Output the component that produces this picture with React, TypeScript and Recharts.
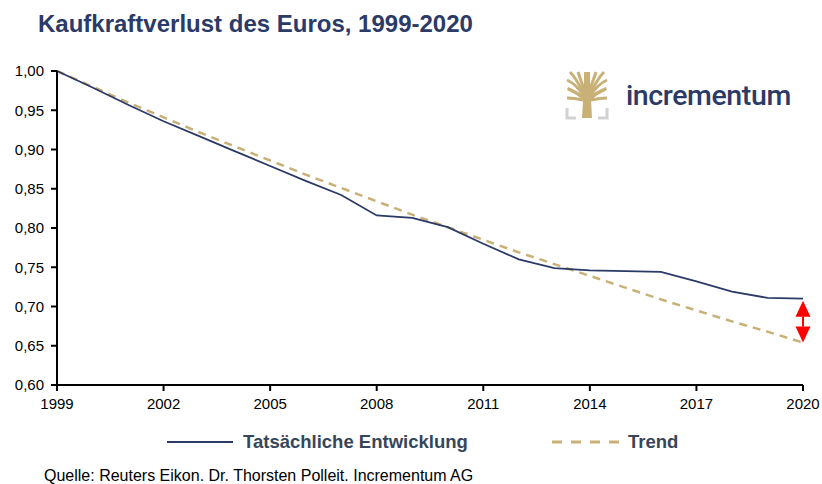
import { LineChart, Line, XAxis, YAxis, ReferenceLine } from 'recharts';

const years = [1999, 2000, 2001, 2002, 2003, 2004, 2005, 2006, 2007, 2008, 2009, 2010, 2011, 2012, 2013, 2014, 2015, 2016, 2017, 2018, 2019, 2020];
const actual = [1.0, 0.979, 0.957, 0.936, 0.917, 0.898, 0.879, 0.860, 0.842, 0.816, 0.813, 0.801, 0.780, 0.760, 0.749, 0.746, 0.745, 0.744, 0.732, 0.719, 0.711, 0.710];
const trend = [1.0, 0.980, 0.960, 0.941, 0.922, 0.904, 0.886, 0.868, 0.851, 0.834, 0.817, 0.801, 0.785, 0.769, 0.754, 0.739, 0.724, 0.709, 0.695, 0.681, 0.668, 0.654];
const xTicks = [1999, 2002, 2005, 2008, 2011, 2014, 2017, 2020];
const yTicks = [0.6, 0.65, 0.7, 0.75, 0.8, 0.85, 0.9, 0.95, 1.0];

const NAVY = '#2b3a67';
const GOLD = '#c9b077';

const data = years.map((y, i) => ({ year: y, actual: actual[i], trend: trend[i] }));

const lastYear = years[years.length - 1];
const gapTop = actual[actual.length - 1];
const gapBottom = trend[trend.length - 1];

function DoubleArrow(props: any) {
    const { x1, y1, x2, y2 } = props;
    const x = (x1 + x2) / 2;
    const top = Math.min(y1, y2) + 2;
    const bottom = Math.max(y1, y2);
    const h = 16;
    const w = 7.5;
    return (
        <g>
            <line x1={x} y1={top + h} x2={x} y2={bottom - h} stroke="#ff0000" strokeWidth={2} />
            <polygon points={`${x},${top} ${x - w},${top + h} ${x + w},${top + h}`} fill="#ff0000" />
            <polygon points={`${x},${bottom} ${x - w},${bottom - h} ${x + w},${bottom - h}`} fill="#ff0000" />
        </g>
    );
}

function Logo() {
    return (
        <div style={{ position: 'absolute', left: 562, top: 68, display: 'flex', alignItems: 'center' }}>
            <svg width={50} height={54} viewBox="0 0 50 54">
                {/* grey brackets */}
                <path d="M5 40 V50 H14" stroke="#d2d2d2" strokeWidth={3} fill="none" />
                <path d="M45 40 V50 H36" stroke="#d2d2d2" strokeWidth={3} fill="none" />
                {/* trunk */}
                <path d="M20 50 L21 32 Q14 26 5 22 L6 19 Q16 23 22 28 L22 4 L28 4 L28 28 Q34 23 44 19 L45 22 Q36 26 29 32 L30 50 Z" fill={GOLD} />
                {/* branches */}
                <g stroke={GOLD} strokeWidth={3} fill="none">
                    <path d="M22 28 Q14 16 5 12" />
                    <path d="M22 26 Q14 10 8 4" />
                    <path d="M23 24 Q18 10 16 4" />
                    <path d="M28 28 Q36 16 45 12" />
                    <path d="M28 26 Q36 10 42 4" />
                    <path d="M27 24 Q32 10 34 4" />
                    <path d="M21 32 Q12 30 5 30" />
                    <path d="M29 32 Q38 30 45 30" />
                </g>
            </svg>
            <span style={{ marginLeft: 14, fontFamily: 'Roboto, Arial, sans-serif', fontSize: 28.5, fontWeight: 500, color: NAVY, letterSpacing: -0.4 }}>
                incrementum
            </span>
        </div>
    );
}

export default function App() {
    const textFont = 'Liberation Sans, Arial, sans-serif';
    return (
        <div style={{ position: 'absolute', left: 0, top: 0, width: 822, height: 484, background: '#fff', fontFamily: textFont, overflow: 'hidden' }}>
            <div style={{ position: 'absolute', left: 38, top: 10, fontSize: 24, fontWeight: 'bold', color: NAVY, whiteSpace: 'nowrap' }}>
                Kaufkraftverlust des Euros, 1999-2020
            </div>
            <Logo />
            <LineChart width={822} height={484} data={data} margin={{ top: 71, right: 19, bottom: 69, left: 0 }}>
                <XAxis
                    dataKey="year"
                    type="number"
                    domain={[1999, 2020]}
                    ticks={xTicks}
                    stroke="#000"
                    strokeWidth={2}
                    tickSize={6}
                    tickMargin={7}
                    height={30}
                    tick={{ fill: '#000', fontSize: 15, fontFamily: textFont }}
                    interval={0}
                />
                <YAxis
                    type="number"
                    domain={[0.6, 1.0]}
                    ticks={yTicks}
                    stroke="#000"
                    strokeWidth={2}
                    tickSize={6}
                    tickMargin={7}
                    width={57}
                    tick={{ fill: '#000', fontSize: 15, fontFamily: textFont }}
                    tickFormatter={(v: number) => v.toFixed(2).replace('.', ',')}
                    interval={0}
                />
                <Line dataKey="trend" stroke={GOLD} strokeWidth={2.5} strokeDasharray="8 6" dot={false} isAnimationActive={false} />
                <Line dataKey="actual" stroke={NAVY} strokeWidth={1.8} dot={false} isAnimationActive={false} />
                <ReferenceLine
                    segment={[{ x: lastYear, y: gapTop }, { x: lastYear, y: gapBottom }]}
                    stroke="#ff0000"
                    shape={DoubleArrow}
                    ifOverflow="visible"
                />
            </LineChart>
            <div style={{ position: 'absolute', left: 167, top: 431, display: 'flex', alignItems: 'center', fontSize: 18.5, fontWeight: 'bold', color: '#36465a', whiteSpace: 'nowrap' }}>
                <svg width={66} height={6}><line x1={0} y1={3} x2={66} y2={3} stroke={NAVY} strokeWidth={2} /></svg>
                <span style={{ marginLeft: 10 }}>Tatsächliche Entwicklung</span>
            </div>
            <div style={{ position: 'absolute', left: 552, top: 431, display: 'flex', alignItems: 'center', fontSize: 18.5, fontWeight: 'bold', color: '#36465a', whiteSpace: 'nowrap' }}>
                <svg width={67} height={6}><line x1={0} y1={3} x2={67} y2={3} stroke={GOLD} strokeWidth={3} strokeDasharray="10 9" /></svg>
                <span style={{ marginLeft: 9 }}>Trend</span>
            </div>
            <div style={{ position: 'absolute', left: 44, top: 467, fontSize: 16, color: '#000', whiteSpace: 'nowrap' }}>
                Quelle: Reuters Eikon. Dr. Thorsten Polleit. Incrementum AG
            </div>
        </div>
    );
}
